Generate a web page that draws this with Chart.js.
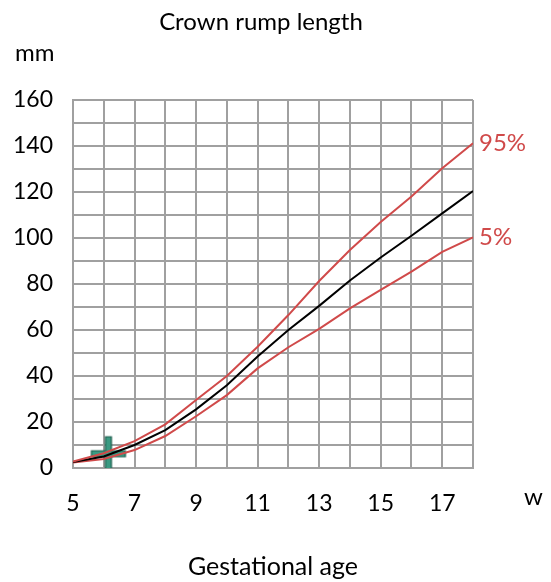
<!DOCTYPE html>
<html><head><meta charset="utf-8">
<script src="https://cdn.jsdelivr.net/npm/chart.js@4.4.1/dist/chart.umd.min.js"></script>
<style>html,body{margin:0;padding:0;background:#fff;}</style>
</head><body>
<canvas id="c" width="551" height="582"></canvas>
<script>
const weeks = [5,6,7,8,9,10,11,12,13,14,15,16,17,18];
const p50 = [2.6,5.0,10.0,16.5,25.5,36.0,48.5,60.0,70.5,81.5,91.5,101.0,110.7,120.4];
const p95 = [2.8,6.4,11.7,19.0,29.6,40.0,52.7,66.5,81.3,94.8,107.0,118.0,130.3,141.2];
const p5  = [2.4,3.9,7.8,13.9,22.5,31.7,43.3,52.5,60.5,69.4,77.4,85.4,94.0,100.3];
const xTickLabels = [5,7,9,11,13,15,17];
const yTickLabels = [0,20,40,60,80,100,120,140,160];
const measurement = [{x: 6.15, y: 6.2}];
const labels95 = '95%', labels5 = '5%';
const chartTitle = 'Crown rump length';

const FONT = 'Lato, "Open Sans", sans-serif';
const RED = '#d04a4a';
const GRID = '#a0a0a0';

// cross marker image
function makeCross() {
  const c = document.createElement('canvas');
  c.width = 38; c.height = 38;
  const g = c.getContext('2d');
  const m = 19, L = 17, t = 3;
  g.beginPath();
  g.moveTo(m - t, m - L); g.lineTo(m + t, m - L); g.lineTo(m + t, m - t);
  g.lineTo(m + L, m - t); g.lineTo(m + L, m + t); g.lineTo(m + t, m + t);
  g.lineTo(m + t, m + L); g.lineTo(m - t, m + L); g.lineTo(m - t, m + t);
  g.lineTo(m - L, m + t); g.lineTo(m - L, m - t); g.lineTo(m - t, m - t);
  g.closePath();
  g.fillStyle = '#3a9a82'; g.fill();
  g.lineWidth = 1.2; g.strokeStyle = '#1d5c4c'; g.stroke();
  return c;
}

const toXY = (vals) => weeks.map((w, i) => ({x: w, y: vals[i]}));

const textPlugin = {
  id: 'texts',
  afterDraw(chart) {
    const ctx = chart.ctx;
    const xs = chart.scales.x, ys = chart.scales.y;
    ctx.save();
    ctx.font = '24px ' + FONT;
    ctx.fillStyle = '#000';
    ctx.textBaseline = 'middle';
    ctx.textAlign = 'center';
    ctx.fillText(chartTitle, 261, 22);
    ctx.textAlign = 'left';
    ctx.fillText('mm', 15, 53);
    ctx.fillText('w', 524, 497);
    ctx.fillStyle = RED;
    const last = weeks.length - 1;
    ctx.fillText(labels95, xs.getPixelForValue(weeks[last]) + 6, ys.getPixelForValue(p95[last]));
    ctx.fillText(labels5, xs.getPixelForValue(weeks[last]) + 6, ys.getPixelForValue(p5[last]));
    ctx.restore();
  }
};

new Chart(document.getElementById('c'), {
  type: 'line',
  data: {
    datasets: [
      {data: toXY(p95), borderColor: RED, borderWidth: 2, pointRadius: 0, fill: false, order: 1},
      {data: toXY(p50), borderColor: '#000', borderWidth: 2, pointRadius: 0, fill: false, order: 1},
      {data: toXY(p5), borderColor: RED, borderWidth: 2, pointRadius: 0, fill: false, order: 1},
      {type: 'scatter', data: measurement, pointStyle: makeCross(), pointRadius: 18, order: 5}
    ]
  },
  options: {
    responsive: false,
    animation: false,
    devicePixelRatio: 1,
    layout: {padding: {left: 0, right: 78, top: 100, bottom: 0}},
    plugins: {
      legend: {display: false},
      tooltip: {enabled: false},
      title: {display: false}
    },
    scales: {
      x: {
        type: 'linear', min: 5, max: 18,
        grid: {color: GRID, lineWidth: 2, drawTicks: false},
        border: {color: GRID, width: 2},
        ticks: {stepSize: 1, padding: 22, color: '#000', maxRotation: 0, autoSkip: false,
          font: {family: FONT, size: 23},
          callback: (v) => xTickLabels.includes(v) ? String(v) : ''},
        title: {display: true, text: 'Gestational age', color: '#000',
          font: {family: FONT, size: 25}, padding: {top: 0, bottom: 0}},
        afterFit: (s) => { s.height = 114; }
      },
      y: {
        type: 'linear', min: 0, max: 160,
        grid: {color: GRID, lineWidth: 2, drawTicks: false},
        border: {color: GRID, width: 2},
        ticks: {stepSize: 10, padding: 20, color: '#000', autoSkip: false,
          font: {family: FONT, size: 23},
          callback: (v) => yTickLabels.includes(v) ? String(v) : ''},
        afterFit: (s) => { s.width = 73; }
      }
    }
  },
  plugins: [textPlugin]
});
</script>
</body></html>
